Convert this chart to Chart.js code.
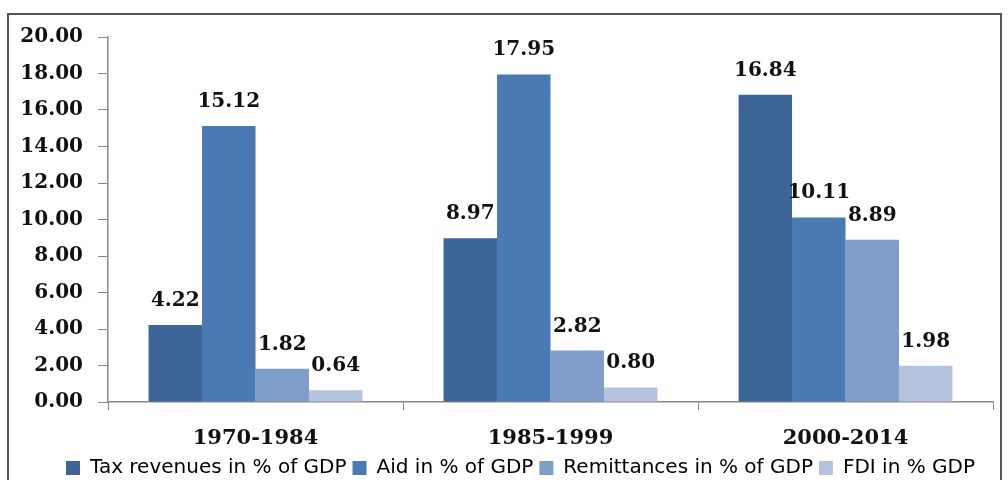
<!DOCTYPE html>
<html><head><meta charset="utf-8">
<script src="https://cdn.jsdelivr.net/npm/chart.js@4/dist/chart.umd.min.js"></script>
<style>
html,body{margin:0;padding:0;background:#fff;}
#wrap{position:absolute;left:0;top:0;width:1008px;height:480px;}
#frame{position:absolute;left:7px;top:13px;width:995px;height:480px;border:2px solid #555;box-sizing:border-box;}
</style></head>
<body>
<div id="frame"></div>
<div id="wrap"><canvas id="c" width="1008" height="480"></canvas></div>
<script>
const categories = ["1970-1984", "1985-1999", "2000-2014"];
const taxRevenues = [4.22, 8.97, 16.84];
const aid = [15.12, 17.95, 10.11];
const remittances = [1.82, 2.82, 8.89];
const fdi = [0.64, 0.80, 1.98];
const seriesNames = ["Tax revenues in % of GDP", "Aid in % of GDP", "Remittances in % of GDP", "FDI in % GDP"];
const seriesColors = ["#3D6597", "#4A7AB4", "#7F9DC9", "#B4C4DE"];
const yTicks = [0, 2, 4, 6, 8, 10, 12, 14, 16, 18, 20];

const labelPlugin = {
  id: 'valueLabels',
  afterLayout(chart) {
    if (chart.legend) { chart.legend.left += 24; chart.legend.right += 24; }
  },
  afterDatasetsDraw(chart) {
    const ctx = chart.ctx;
    ctx.save();
    ctx.font = 'bold 20px "DejaVu Serif", serif';
    ctx.fillStyle = '#111';
    ctx.textAlign = 'center';
    ctx.textBaseline = 'alphabetic';
    chart.data.datasets.forEach((ds, i) => {
      chart.getDatasetMeta(i).data.forEach((bar, j) => {
        ctx.fillText(ds.data[j].toFixed(2), bar.x, bar.y - 19);
      });
    });
    ctx.restore();
  }
};

const datasets = [taxRevenues, aid, remittances, fdi].map((d, i) => ({
  label: seriesNames[i],
  data: d,
  backgroundColor: seriesColors[i],
  borderWidth: 0,
  categoryPercentage: 0.725,
  barPercentage: 1.0
}));

new Chart(document.getElementById('c'), {
  type: 'bar',
  data: { labels: categories, datasets },
  plugins: [labelPlugin],
  options: {
    responsive: false,
    animation: false,
    layout: { padding: { top: 37, right: 15, left: 0, bottom: -8 } },
    plugins: {
      tooltip: { enabled: false },
      legend: {
        position: 'bottom',
        labels: {
          boxWidth: 14, boxHeight: 14, padding: 6,
          color: '#000',
          font: { family: '"DejaVu Sans", Verdana, sans-serif', size: 20 }
        }
      }
    },
    scales: {
      y: {
        min: 0, max: 20,
        afterFit(s) { s.width = 108; },
        afterBuildTicks(s) { s.ticks = yTicks.map(v => ({ value: v })); },
        border: { display: true, color: '#888', width: 1.5 },
        grid: { drawOnChartArea: false, drawTicks: true, tickLength: 10, color: '#888' },
        ticks: {
          padding: 15,
          color: '#111',
          font: { family: '"DejaVu Serif", serif', size: 20, weight: 'bold' },
          callback: v => Number(v).toFixed(2)
        }
      },
      x: {
        afterFit(s) { s.height = 50; },
        border: { display: true, color: '#888', width: 1.5 },
        grid: { offset: true, drawOnChartArea: false, drawTicks: true, tickLength: 8, color: '#888' },
        ticks: {
          padding: 16,
          color: '#111',
          font: { family: '"DejaVu Serif", serif', size: 21, weight: 'bold' }
        }
      }
    }
  }
});
</script>
</body></html>
